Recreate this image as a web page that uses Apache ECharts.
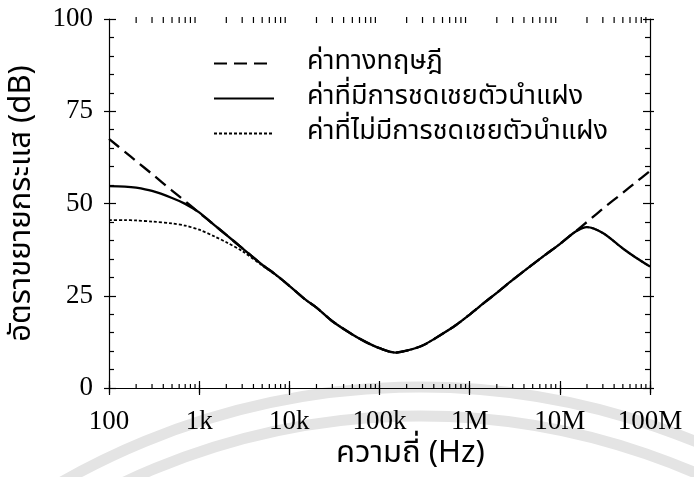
<!DOCTYPE html>
<html><head><meta charset="utf-8">
<script src="https://cdn.jsdelivr.net/npm/echarts@6/dist/echarts.min.js"></script>
<style>html,body{margin:0;padding:0;background:#fff}#c{width:694px;height:477px}</style>
</head><body><div id="c"></div>
<script>
// ---- data ----
const freqHz = [100,150,200,300,500,700,1e3,1.5e3,2e3,3e3,5e3,7e3,1e4,1.5e4,2e4,3e4,5e4,7e4,1e5,1.5e5,2e5,3e5,5e5,7e5,1e6,1.5e6,2e6,3e6,5e6,7e6,1e7,1.5e7,2e7,3e7,5e7,7e7,1e8];
const theoryDb = [67.5,64.0,61.5,58.0,53.5,50.6,47.5,44.0,41.5,37.9,33.4,30.8,27.7,24.0,21.8,18.1,14.5,12.5,10.8,9.6,10.1,11.5,14.7,17.0,19.9,23.4,25.8,29.3,33.5,36.2,39.0,42.5,45.0,48.6,52.9,55.8,58.8];
const compDb   = [54.7,54.6,54.3,53.4,51.5,49.9,47.6,44.0,41.5,37.9,33.4,30.8,27.7,24.0,21.8,18.1,14.5,12.5,10.8,9.6,10.1,11.5,14.7,17.0,19.9,23.4,25.8,29.3,33.5,36.2,39.0,42.4,43.6,42.0,37.8,35.3,32.9];
const uncompDb = [45.5,45.5,45.4,45.1,44.6,44.0,42.9,41.0,39.5,37.1,33.2,30.7,27.7,24.0,21.8,18.1,14.5,12.5,10.8,9.6,10.1,11.5,14.7,17.0,19.9,23.4,25.8,29.3,33.5,36.2,39.0,42.4,43.6,42.0,37.8,35.3,32.9];
const seriesNames = ['ค่าทางทฤษฎี','ค่าที่มีการชดเชยตัวนำแฝง','ค่าที่ไม่มีการชดเชยตัวนำแฝง'];
const xTickValues = [100,1e3,1e4,1e5,1e6,1e7,1e8];
const xTickLabels = ['100','1k','10k','100k','1M','10M','100M'];
const yMin = 0, yMax = 100, yInterval = 25;
const xTitle = 'ความถี่ (Hz)';
const yTitle = 'อัตราขยายกระแส (dB)';

// minor (2..9) log ticks between decades
const minorTickFreqs = [];
for (let d = 0; d < xTickValues.length - 1; d++) {
  for (let k = 2; k <= 9; k++) minorTickFreqs.push(xTickValues[d] * k);
}

const thaiFont = "'Noto Sans Thai','Noto Sans','DejaVu Sans',sans-serif";
const numFont = "'Liberation Serif','DejaVu Serif',serif";

function pairs(vals){ return freqHz.map((f,i)=>[f, vals[i]]); }
function xLabel(v){
  const i = xTickValues.findIndex(t => Math.abs(Math.log10(t) - Math.log10(v)) < 1e-6);
  return i >= 0 ? xTickLabels[i] : '';
}

const chart = echarts.init(document.getElementById('c'), null, {renderer:'canvas'});
const axisLine = {show:true, lineStyle:{color:'#000', width:1.2}};
const tickIn = {show:true, inside:true, length:7, lineStyle:{color:'#000', width:1.2}};
const tickOut = {show:true, inside:false, length:5, lineStyle:{color:'#000', width:1.2}};

const option = {
  animation:false,
  backgroundColor:'#fff',
  graphic:[
    {type:'arc', z:0, shape:{cx:420, cy:1110, r:723, startAngle:-2.3, endAngle:-0.9, clockwise:true}, style:{stroke:'#e4e4e4', lineWidth:11, fill:null}},
    {type:'arc', z:0, shape:{cx:420, cy:1110, r:694, startAngle:-2.3, endAngle:-0.9, clockwise:true}, style:{stroke:'#e4e4e4', lineWidth:11, fill:null}}
  ],
  grid:{left:107, right:44, top:19, bottom:89, containLabel:false},
  legend:{
    orient:'vertical', left:208, top:45, itemWidth:60, itemHeight:14, itemGap:8,
    data:seriesNames,
    itemStyle:{opacity:0},
    textStyle:{fontFamily:thaiFont, fontSize:27, color:'#000', lineHeight:26, padding:[0,0,0,28]}
  },
  xAxis:[
    {type:'log', logBase:10, min:100, max:1e8, position:'bottom',
     axisLine:axisLine, axisTick:tickIn, splitLine:{show:false},
     axisLabel:{formatter:xLabel, fontFamily:numFont, fontSize:27, color:'#000', margin:20},
     name:xTitle, nameLocation:'middle', nameGap:44,
     nameTextStyle:{fontFamily:thaiFont, fontSize:31, color:'#000', padding:[0,0,0,62]}},
    {type:'log', logBase:10, min:100, max:1e8, position:'top',
     axisLine:axisLine, axisTick:tickIn, axisLabel:{show:false}, splitLine:{show:false}},
    {type:'log', logBase:10, min:100, max:1e8, position:'bottom',
     axisLine:{show:false}, axisTick:tickOut, axisLabel:{show:false}, splitLine:{show:false}},
    {type:'log', logBase:10, min:100, max:1e8, position:'top',
     axisLine:{show:false}, axisTick:{show:true, inside:false, length:3, lineStyle:{color:'#000', width:1.2}}, axisLabel:{show:false}, splitLine:{show:false}}
  ],
  yAxis:[
    {type:'value', min:yMin, max:yMax, interval:yInterval, position:'left',
     axisLine:axisLine, axisTick:tickIn, splitLine:{show:false},
     minorTick:{show:true, splitNumber:5, length:5, lineStyle:{color:'#000', width:1.2}},
     axisLabel:{fontFamily:numFont, fontSize:27, color:'#000', margin:16},
     name:yTitle, nameLocation:'middle', nameGap:60, nameRotate:90,
     nameTextStyle:{fontFamily:thaiFont, fontSize:31, color:'#000', padding:[0,0,10,0]}},
    {type:'value', min:yMin, max:yMax, interval:yInterval, position:'right',
     axisLine:axisLine, axisTick:tickIn, axisLabel:{show:false}, splitLine:{show:false},
     minorTick:{show:true, splitNumber:5, length:5, lineStyle:{color:'#000', width:1.2}}},
    {type:'value', min:yMin, max:yMax, interval:yInterval, position:'left',
     axisLine:{show:false}, axisTick:tickOut, axisLabel:{show:false}, splitLine:{show:false}},
    {type:'value', min:yMin, max:yMax, interval:yInterval, position:'right',
     axisLine:{show:false}, axisTick:{show:true, inside:false, length:4, lineStyle:{color:'#000', width:1.2}}, axisLabel:{show:false}, splitLine:{show:false}}
  ],
  series:[
    {name:seriesNames[0], type:'line', data:pairs(theoryDb), symbol:'none', smooth:0.3,
     lineStyle:{color:'#000', width:2.3, type:[13,7]}, itemStyle:{color:'#000'}, z:3},
    {name:seriesNames[1], type:'line', data:pairs(compDb), symbol:'none', smooth:0.3,
     lineStyle:{color:'#000', width:2.3, type:'solid'}, itemStyle:{color:'#000'}, z:4},
    {name:seriesNames[2], type:'line', data:pairs(uncompDb), symbol:'none', smooth:0.3,
     lineStyle:{color:'#000', width:1.8, type:[3,2]}, itemStyle:{color:'#000'}, z:3},
    {type:'custom', data:minorTickFreqs.map(f=>[f]), silent:true, z:5, clip:false,
     renderItem:function(params, api){
       const f = api.value(0);
       const b = api.coord([f, yMin]);
       const t = api.coord([f, yMax]);
       const st = {stroke:'#000', lineWidth:1.2};
       return {type:'group', children:[
         {type:'line', shape:{x1:b[0], y1:b[1], x2:b[0], y2:b[1]-4}, style:st},
         {type:'line', shape:{x1:t[0], y1:t[1]-2, x2:t[0], y2:t[1]+4}, style:st}
       ]};
     }}
  ]
};
chart.setOption(option);
</script>
</body></html>
